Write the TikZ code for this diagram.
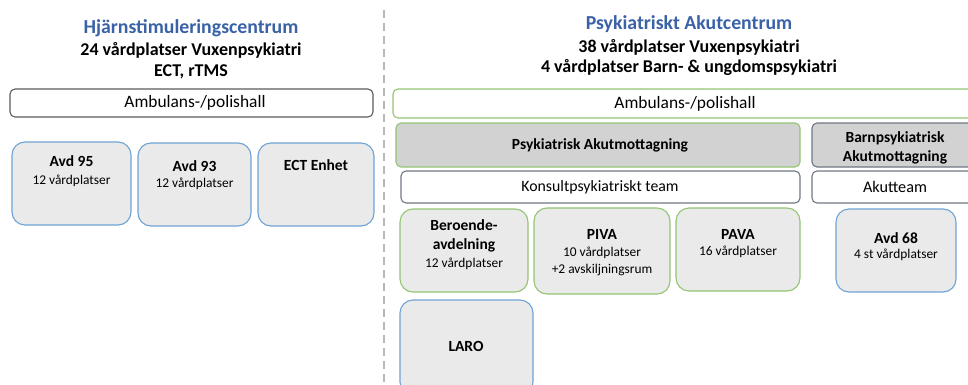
\documentclass[tikz,border=0pt]{standalone}
\usepackage{fontspec}
\setmainfont{Carlito}
\begin{document}
\begin{tikzpicture}[x=1pt,y=-1pt,
  every node/.style={inner sep=0pt, outer sep=0pt},
  title/.style={font=\bfseries\fontsize{19.8}{22}\selectfont, text=titleblue},
  sub/.style={font=\bfseries\fontsize{18}{21}\selectfont},
  wide/.style={draw, line width=1.1pt, rounded corners=5pt, anchor=north west},
  unit/.style={draw, line width=1.1pt, rounded corners=13pt, fill=unitfill, anchor=north west},
  head/.style={font=\bfseries\fontsize{15.5}{18}\selectfont},
  reg/.style={font=\fontsize{15.8}{18}\selectfont},
  amb/.style={font=\fontsize{17.4}{20}\selectfont},
  small/.style={font=\fontsize{13.4}{16}\selectfont},
]
\definecolor{titleblue}{HTML}{3A62A7}
\definecolor{greenb}{HTML}{93C572}
\definecolor{blueb}{HTML}{6FA2D6}
\definecolor{darkb}{HTML}{5C5C5C}
\definecolor{grayb}{HTML}{6F7785}
\definecolor{unitfill}{HTML}{EAEAEA}
\definecolor{headfill}{HTML}{D2D2D2}
\definecolor{dashgray}{HTML}{B8B8B8}
\useasboundingbox (0,0) rectangle (968,385);
\clip (0,0) rectangle (968,385);
\fill[white] (0,0) rectangle (968,385);

% divider
\coordinate (dtop) at (384,10);
\coordinate (dbot) at (384,390);
\draw[dashgray, line width=2pt, dash pattern=on 8pt off 5pt] (dtop) -- (dbot);

% left column
\node[title] (lt) at (191,28) {Hjärnstimuleringscentrum};
\node[sub] (ls1) at (191,50) {24 vårdplatser Vuxenpsykiatri};
\node[sub] (ls2) at (191,72) {ECT, rTMS};
\node[wide, draw=darkb, minimum width=363pt, minimum height=28pt] (lamb) at (10,89) {};
\node[amb] (lambt) at (195,103) {Ambulans-/polishall};

\node[unit, draw=blueb, minimum width=119pt, minimum height=83pt] (a95) at (12,142) {};
\node[head] (a95h) at (71.5,161) {Avd 95};
\node[small] (a95s) at (71.5,181) {12 vårdplatser};
\node[unit, draw=blueb, minimum width=113pt, minimum height=83pt] (a93) at (138,143) {};
\node[head] (a93h) at (194.5,166) {Avd 93};
\node[small] (a93s) at (194.5,184) {12 vårdplatser};
\node[unit, draw=blueb, minimum width=116pt, minimum height=83pt] (ect) at (258,143) {};
\node[head] (ecth) at (316,165) {ECT Enhet};

% right column
\node[title] (rt) at (689,24) {Psykiatriskt Akutcentrum};
\node[sub] (rs1) at (689,47) {38 vårdplatser Vuxenpsykiatri};
\node[sub] (rs2) at (689,68) {4 vårdplatser Barn- \& ungdomspsykiatri};
\node[wide, draw=greenb, minimum width=600pt, minimum height=29pt] (ramb) at (393,89) {};
\node[amb] (rambt) at (685,104) {Ambulans-/polishall};

\node[wide, draw=greenb, fill=headfill, minimum width=404pt, minimum height=44pt] (pam) at (396,123) {};
\node[head] (pamt) at (600,145) {Psykiatrisk Akutmottagning};
\node[wide, draw=grayb, fill=headfill, minimum width=180pt, minimum height=44pt] (bam) at (812,123) {};
\node[head, align=center, font=\bfseries\fontsize{15.5}{19}\selectfont] (bamt) at (895,147.5) {Barnpsykiatrisk\\Akutmottagning};

\node[wide, draw=grayb, fill=white, minimum width=399pt, minimum height=32pt] (kons) at (401,171) {};
\node[reg] (konst) at (600,187) {Konsultpsykiatriskt team};
\node[wide, draw=grayb, fill=white, minimum width=166pt, minimum height=32pt] (akt) at (812,171) {};
\node[reg, font=\fontsize{16.2}{18}\selectfont] (aktt) at (895,187) {Akutteam};

\node[unit, draw=greenb, minimum width=128pt, minimum height=83pt] (ber) at (400,209) {};
\node[head] (berh1) at (464,225) {Beroende-};
\node[head] (berh2) at (464,245) {avdelning};
\node[small] (bers) at (464,264) {12 vårdplatser};
\node[unit, draw=greenb, minimum width=136pt, minimum height=86pt] (piva) at (534,208) {};
\node[head] (pivah) at (602,234) {PIVA};
\node[small] (pivas1) at (602,253) {10 vårdplatser};
\node[small] (pivas2) at (602,270) {+2 avskiljningsrum};
\node[unit, draw=greenb, minimum width=124pt, minimum height=83pt] (pava) at (676,208) {};
\node[head] (pavah) at (738,234) {PAVA};
\node[small] (pavas) at (738,252) {16 vårdplatser};
\node[unit, draw=blueb, minimum width=120pt, minimum height=83pt] (a68) at (836,209) {};
\node[head] (a68h) at (896,238) {Avd 68};
\node[small] (a68s) at (896,255) {4 st vårdplatser};
\node[unit, draw=blueb, minimum width=133pt, minimum height=95pt] (laro) at (400,300) {};
\node[head] (laroh) at (466,346) {LARO};
\end{tikzpicture}
\end{document}
